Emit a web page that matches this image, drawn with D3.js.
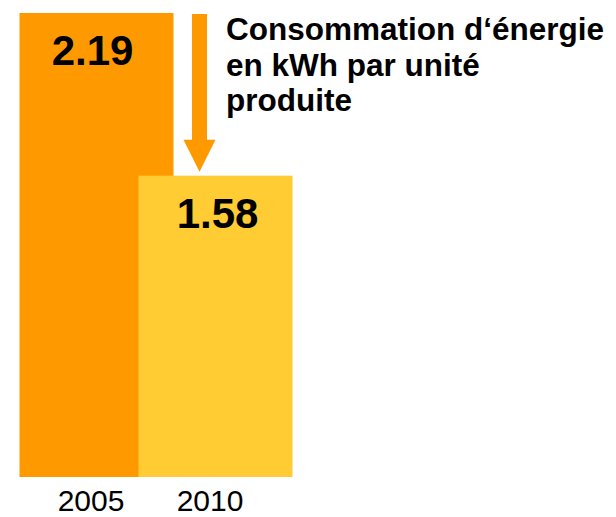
<!DOCTYPE html>
<html>
<head>
<meta charset="utf-8">
<script src="https://cdn.jsdelivr.net/npm/d3@7"></script>
<style>
  body { margin: 0; background: #fff; }
  text { font-family: "Liberation Sans", Arial, sans-serif; }
</style>
</head>
<body>
<div class="canvas"></div>
<script>
const years = ["2005", "2010"];
const values = [2.19, 1.58];
const barColors = ["#FF9900", "#FFCC33"];
const titleLines = ["Consommation d‘énergie", "en kWh par unité", "produite"];

const width = 616;
const height = 517;

const svg = d3
  .select(".canvas")
  .append("svg")
  .attr("width", width)
  .attr("height", height);

// bar centres; bars are wider than the gap so the second one overlaps the first
const x = d3.scalePoint().domain(years).range([96.5, 215.5]);
const barWidth = 154;

// the value axis does not start at zero in the original
const y = d3.scaleLinear().domain([0.45, 2.19]).range([477, 13]);

const data = years.map((year, i) => ({ year, value: values[i], color: barColors[i] }));

svg
  .selectAll("rect.bar")
  .data(data)
  .enter()
  .append("rect")
  .attr("class", "bar")
  .attr("x", d => x(d.year) - barWidth / 2)
  .attr("y", d => y(d.value))
  .attr("width", barWidth)
  .attr("height", d => y.range()[0] - y(d.value))
  .attr("fill", d => d.color);

// value labels inside the top of each bar
const labelShift = [-4, 2];
svg
  .selectAll("text.value")
  .data(data)
  .enter()
  .append("text")
  .attr("class", "value")
  .attr("x", (d, i) => x(d.year) + labelShift[i])
  .attr("y", d => y(d.value) + 52)
  .attr("text-anchor", "middle")
  .attr("font-size", 42)
  .attr("font-weight", "bold")
  .attr("fill", "#000")
  .text(d => d.value.toFixed(2));

// year axis
const axisG = svg
  .append("g")
  .attr("transform", `translate(-6, ${y.range()[0]})`)
  .call(d3.axisBottom(x).tickSize(0).tickPadding(13));

axisG.select(".domain").remove();
axisG
  .selectAll("text")
  .attr("font-size", 30)
  .attr("font-family", "'Liberation Sans', Arial, sans-serif")
  .attr("fill", "#000");

// downward arrow between the two bar tops
const ax = 199.5;
const arrowTop = y(values[0]) + 1;
const arrowTip = y(values[1]) - 4;
const shaftHalf = 7.5;
const headHalf = 16;
const headLen = 32;

svg
  .append("path")
  .attr(
    "d",
    `M${ax - shaftHalf},${arrowTop}` +
      `L${ax + shaftHalf},${arrowTop}` +
      `L${ax + shaftHalf},${arrowTip - headLen}` +
      `L${ax + headHalf},${arrowTip - headLen}` +
      `L${ax},${arrowTip}` +
      `L${ax - headHalf},${arrowTip - headLen}` +
      `L${ax - shaftHalf},${arrowTip - headLen}Z`
  )
  .attr("fill", "#FF9900");

// title block
svg
  .append("g")
  .selectAll("text")
  .data(titleLines)
  .enter()
  .append("text")
  .attr("x", 226)
  .attr("y", (d, i) => 40 + i * 35.5)
  .attr("font-size", 31.5)
  .attr("font-weight", "bold")
  .attr("fill", "#000")
  .text(d => d);
</script>
</body>
</html>
